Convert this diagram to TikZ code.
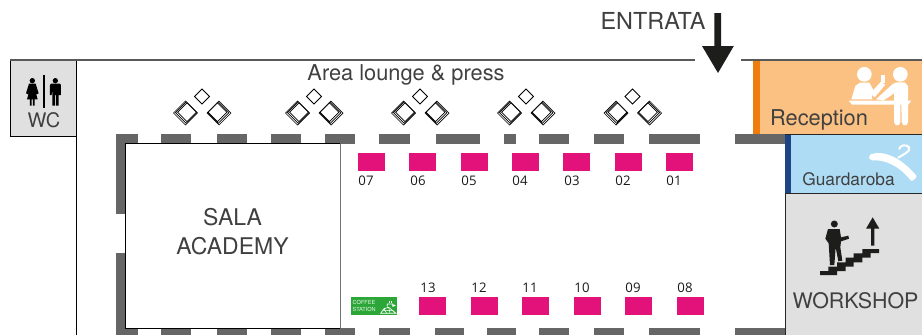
\documentclass[tikz,border=0pt]{standalone}
\usepackage{fontspec}
\setmainfont{TeX Gyre Heros}
\newfontfamily\numfont{Open Sans}
\usepackage{xcolor}
\definecolor{wallgrey}{HTML}{666666}
\definecolor{roomgrey}{HTML}{E0E0E0}
\definecolor{standpink}{HTML}{E2127A}
\definecolor{coffeegreen}{HTML}{2BA637}
\definecolor{recfill}{HTML}{FBC182}
\definecolor{recbar}{HTML}{EF7D0E}
\definecolor{wardfill}{HTML}{AEDCF5}
\definecolor{wardbar}{HTML}{1D4484}
\definecolor{inktext}{HTML}{404040}
\definecolor{arrowink}{HTML}{1D1D1B}
\tikzset{
  wall/.style={fill=wallgrey},
  stand/.style={fill=standpink},
  label/.style={anchor=base,inner sep=0pt,text=inktext,font=\fontsize{21.8}{26}\selectfont},
  standnum/.style={anchor=base,inner sep=0pt,text=black!90,font=\numfont\fontsize{13.2}{15}\selectfont},
  table/.style={draw=black,fill=white,line width=0.7pt},
}
\newcommand{\diam}[3]{(#1-#3,#2) -- (#1,#2-#3) -- (#1+#3,#2) -- (#1,#2+#3) -- cycle}

\begin{document}
\begin{tikzpicture}[x=1pt,y=-1pt]
    \useasboundingbox (0,0) rectangle (922,335);
    % rooms at the edge
    \draw[fill=roomgrey,draw=black,line width=0.9pt] (10.5,60) rectangle (76.5,136);
    \draw[black,line width=0.9pt] (76.5,60) -- (76.5,335);
    \draw[fill=recfill,draw=none] (753,60) rectangle (922,134);
    \fill[recbar] (753,60) rectangle (760,134);
    \fill[wardfill] (785,134) rectangle (922,193.5);
    \fill[wardbar] (785,134) rectangle (791,193.5);
    \fill[roomgrey] (785,193.5) rectangle (922,335);
    \draw[black!85,line width=0.9pt] (753,134.3) -- (922,134.3);
    \draw[black!85,line width=0.9pt] (785.3,335) -- (785.3,193.8) -- (922,193.8);
    % entrance wall
    \draw[black!65,line width=1.2pt] (10,60) -- (695,60);
    \draw[black!65,line width=1.2pt] (741,60) -- (922,60);
    % walls of the hall
    \foreach \a/\b in {116/138,161/191,217/247,271/301,325/355,379/410,436/480,504/516,539/569,594/624,649/700,735/785}
        \fill[wall] (\a,134) rectangle (\b,144);
    \foreach \a/\b in {116/138,161/191,217/247,271/301,325/355,379/410,435/464,487/516,539/569,594/624,649/700,735/785}
        \fill[wall] (\a,328) rectangle (\b,335);
    \fill[wall] (116,134) rectangle (126,214);
    \fill[wall] (116,253) rectangle (126,335);
    % sala
    \fill[white] (125.5,143.5) rectangle (340,328);
    \draw[black,line width=0.9pt] (340,143.5) -- (125.5,143.5) -- (125.5,328) -- (340,328);
    \draw[black!55,line width=1pt] (340,143.5) -- (340,328);
    \node[label,font=\fontsize{23}{26}\selectfont] (sala) at (232.5,225) {SALA};
    \node[label,font=\fontsize{23}{26}\selectfont] (academy) at (232.5,254) {ACADEMY};
    % lounge tables
    \foreach \x in {202,314,420,526,632.5} {
        \draw[line width=0.8pt] \diam{\x}{96.5}{7.5};
        \draw[table] \diam{\x-16.5}{113}{12};
        \draw[table] \diam{\x-15.7}{112.6}{10.8};
        \draw[table] \diam{\x-15}{112.2}{9.4};
        \draw[table] \diam{\x+17}{113}{12};
        \draw[table] \diam{\x+16.2}{112.6}{10.8};
        \draw[table] \diam{\x+15.5}{112.2}{9.4};
    }
    % stands
    \foreach \x/\n/\c in {358/07/366,409/06/418,461/05/469,512/04/520,563/03/572,615/02/623,666/01/674} {
        \fill[stand] (\x,153) rectangle (\x+27,171);
        \node[standnum] (s\n) at (\c,185.5) {\n};
    }
    \foreach \x/\n/\c in {419/13/428,471/12/479,522/11/530,574/10/582,625/09/633,677/08/685} {
        \fill[stand] (\x,297) rectangle (\x+27,315);
        \node[standnum] (s\n) at (\c,292.3) {\n};
    }
    % coffee
    \fill[coffeegreen] (351,297) rectangle (397,315);
    \node[anchor=west,inner sep=0pt,align=left,text=white!90!coffeegreen,font=\fontsize{5.6}{6.4}\selectfont] (coffee) at (352.5,306) {COFFEE\\STATION};
    \begin{scope}[shift={(340,270)},scale=1/3,white]
        \draw[line width=0.7pt] (122,130) -- (132,116) -- (146,112) -- (168,130) -- cycle;
        \draw[line width=0.5pt] (132,116) -- (140,130) (146,112) -- (150,130) (128,122) -- (160,122);
        \draw[line width=0.7pt] (142,110) -- (142,102) -- (158,102) -- (158,110) (158,104) -- (165,106) -- (158,110);
        \draw[line width=0.5pt] (147,98) -- (147,94) (153,98) -- (153,94);
    \end{scope}
    % arrow
    \fill[arrowink] (714.3,13) -- (721.2,13) -- (721.2,46) -- (733.8,46) -- (718,73) -- (702,46) -- (714.3,46) -- cycle;
    \node[label,font=\fontsize{23.4}{26}\selectfont] (entrata) at (653,29.3) {ENTRATA};
    \node[label] (lounge) at (406,80) {Area lounge \& press};
    % wc
    \begin{scope}[shift={(0,40)},scale=1/3]
        \fill[black] (97,122) circle (8);
        \fill[black] (87,131) -- (107,131) -- (116,160) -- (110,163) -- (104,146) -- (113,178) -- (104,178) -- (104,197) -- (99,197) -- (99,178) -- (95,178) -- (95,197) -- (90,197) -- (90,178) -- (81,178) -- (90,146) -- (84,163) -- (78,160) -- cycle;
        \fill[black] (129.5,106) rectangle (134,205);
        \fill[black] (166,122) circle (8);
        \fill[black] (153,131) -- (180,131) -- (183,135) -- (183,165) -- (177,165) -- (176,146) -- (176,197) -- (168,197) -- (168,165) -- (165,165) -- (165,197) -- (157,197) -- (157,146) -- (155,165) -- (150,165) -- (150,135) -- cycle;
    \end{scope}
    \node[label,font=\fontsize{20}{24}\selectfont] (wc) at (44,127.7) {WC};
    % reception
    \begin{scope}[shift={(840,60)},scale=1/3,white]
        \fill (73,43) circle (22);
        \fill (181,43) circle (22);
        \fill (34,118) -- (46,78) -- (60,68) -- (88,68) -- (100,90) -- (122,66) -- (136,74) -- (104,112) -- (95,104) -- (97,118) -- cycle;
        \fill (124,45) rectangle (136,68);
        \fill (108,118) -- (158,72) -- (170,67) -- (194,67) -- (204,78) -- (204,186) -- (200,195) -- (190,195) -- (185,186) -- (184,130) -- (181,130) -- (181,186) -- (177,195) -- (167,195) -- (162,186) -- (162,100) -- (130,122) -- cycle;
        \fill (26,122) -- (214,122) -- (205,134) -- (36,134) -- cycle;
    \end{scope}
    \node[label] (reception) at (819,125) {Reception};
    % guardaroba
    \begin{scope}[shift={(860,135)},scale=1/3,white]
        \fill[rounded corners=2pt] (26,60) .. controls (70,45) and (120,65) .. (172,125) -- (155,140) .. controls (120,95) and (75,72) .. (30,77) -- cycle;
        \draw[line width=2pt,line cap=round] (115,68) -- (138,54) .. controls (155,45) and (148,28) .. (130,31) .. controls (122,33) and (118,38) .. (118,42);
    \end{scope}
    \node[label,font=\fontsize{17.3}{20}\selectfont] (guardaroba) at (848.5,185.3) {Guardaroba};
    % workshop
    \begin{scope}[shift={(815,210)},scale=1/3,arrowink]
        \fill (15,183) -- (40,183) -- (40,170) -- (66,170) -- (66,157) -- (92,157) -- (92,143) -- (116,143) -- (116,130) -- (142,130) -- (142,117) -- (192,117) -- (192,129) -- (167,129) -- (167,143) -- (142,143) -- (142,157) -- (116,157) -- (116,170) -- (92,170) -- (92,183) -- (66,183) -- (66,195) -- (15,195) -- cycle;
        \fill (58,42) circle (10.5);
        \fill (39,57) -- (74,57) -- (78,82) -- (100,77) -- (102,86) -- (78,94) -- (76,112) -- (82,152) -- (70,154) -- (62,112) -- (58,165) -- (45,165) -- (41,100) -- (31,86) -- cycle;
        \fill (168,107) -- (168,56) -- (153,56) -- (173,22) -- (193,56) -- (178,56) -- (178,107) -- cycle;
    \end{scope}
    \node[label,font=\fontsize{21.4}{25}\selectfont] (workshop) at (855.5,308) {WORKSHOP};
\end{tikzpicture}
\end{document}
